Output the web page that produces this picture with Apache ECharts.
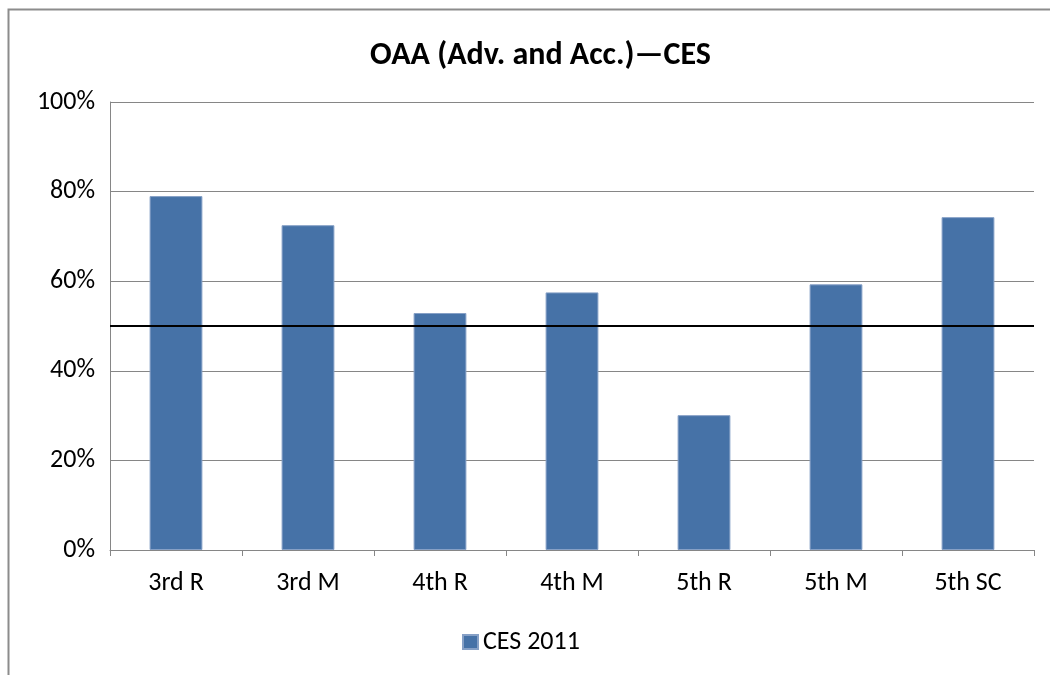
<!DOCTYPE html>
<html>
<head>
<meta charset="utf-8">
<script src="https://cdn.jsdelivr.net/npm/echarts@6/dist/echarts.min.js"></script>
<style>
html,body{margin:0;padding:0;background:#fff;}
#chart{width:1050px;height:675px;}
</style>
</head>
<body>
<div id="chart"></div>
<script>
const categories = ['3rd R', '3rd M', '4th R', '4th M', '5th R', '5th M', '5th SC'];
const ces2011 = [79.0, 72.5, 52.9, 57.5, 30.1, 59.3, 74.3];
const yTicks = [0, 20, 40, 60, 80, 100];
const referenceLevel = 50;
const seriesName = 'CES 2011';
const titleText = 'OAA (Adv. and Acc.)\u2014CES';

const chart = echarts.init(document.getElementById('chart'), null, {renderer: 'canvas'});
const font = 'Carlito, "Open Sans", "Liberation Sans", sans-serif';
chart.setOption({
  animation: false,
  backgroundColor: '#fff',
  graphic: [{
    type: 'rect', silent: true, z: -1,
    shape: {x: 8.5, y: 9.5, width: 1200, height: 800},
    style: {fill: 'none', stroke: '#8c8c8c', lineWidth: 2}
  }],
  title: {
    text: titleText, left: 365, top: 35,
    textStyle: {fontFamily: font, fontWeight: 'bold', fontSize: 32, color: '#000'}
  },
  legend: {
    data: [seriesName], top: 624, left: 457,
    itemWidth: 15, itemHeight: 14, icon: 'rect', itemGap: 8,
    textStyle: {fontFamily: font, fontSize: 26, color: '#000'}
  },
  grid: {left: 110, right: 16, top: 102, bottom: 125, containLabel: false},
  xAxis: {
    type: 'category', data: categories,
    axisLine: {lineStyle: {color: '#868686', width: 1}},
    axisTick: {show: true, alignWithLabel: false, length: 6, lineStyle: {color: '#868686'}},
    axisLabel: {fontFamily: font, fontSize: 26, color: '#000', margin: 20}
  },
  yAxis: {
    type: 'value', min: yTicks[0], max: yTicks[yTicks.length - 1], interval: 20,
    axisLine: {show: true, lineStyle: {color: '#868686', width: 1}},
    axisTick: {show: false},
    splitLine: {lineStyle: {color: '#868686', width: 1}},
    axisLabel: {fontFamily: font, fontSize: 26, color: '#000', margin: 15, formatter: '{value}%'}
  },
  series: [{
    name: seriesName, type: 'bar', data: ces2011, barWidth: '40%',
    itemStyle: {color: '#4672A7', borderColor: '#86a0c6', borderWidth: 1},
    markLine: {
      silent: true, symbol: 'none', label: {show: false},
      lineStyle: {color: '#000', width: 2, type: 'solid'},
      data: [{yAxis: referenceLevel}]
    }
  }]
});
</script>
</body>
</html>
